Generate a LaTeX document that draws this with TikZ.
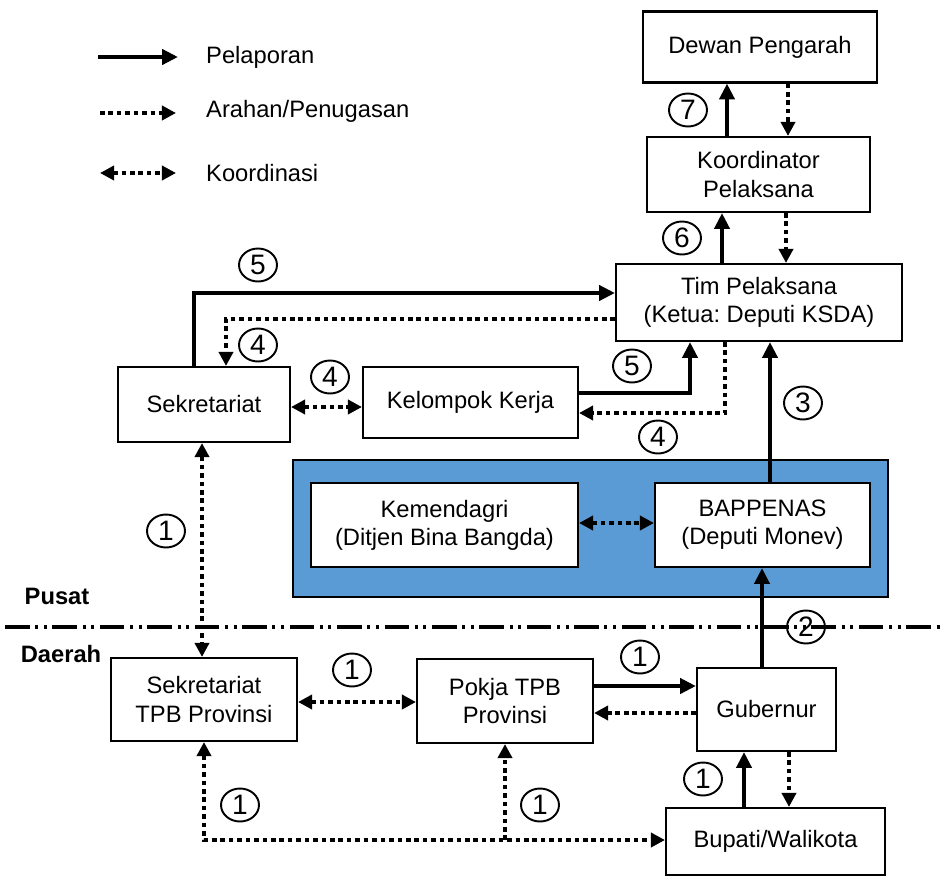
\documentclass[tikz,border=0pt]{standalone}
\usepackage{fontspec}
\setmainfont{Liberation Sans}
\usetikzlibrary{arrows.meta,positioning,calc,shapes.geometric}
\definecolor{colBiru}{RGB}{91,155,213}
\frenchspacing

\begin{document}
\begin{tikzpicture}[x=0.02cm, y=-0.02cm, font=\fontsize{13.5}{16}\selectfont,
    kotak/.style={rectangle, draw, line width=1.2pt, fill=white, align=center,
      inner sep=2pt},
    lapor/.style={-{Triangle[length=9pt,width=8.5pt]}, line width=2.3pt},
    arah/.style={-{Triangle[length=8pt,width=8pt]}, line width=2.2pt,
      dash pattern=on 2.6pt off 2.2pt},
    koord/.style={arah, {Triangle[length=8pt,width=8pt]}-{Triangle[length=8pt,width=8pt]}},
    nomor/.style={ellipse, draw, line width=1.1pt, minimum width=0.76cm,
      minimum height=0.66cm, inner sep=0pt, font=\fontsize{16}{18}\selectfont}]
  \useasboundingbox (0,0) rectangle (940,879);

  % legenda
  \coordinate (l1a) at (98,57);  \coordinate (l1b) at (178,57);
  \coordinate (l2a) at (100,113); \coordinate (l2b) at (176,113);
  \coordinate (l3a) at (100,173); \coordinate (l3b) at (176,173);
  \draw[lapor] (l1a) -- (l1b);
  \draw[arah] (l2a) -- (l2b);
  \draw[koord] (l3a) -- (l3b);
  \node[anchor=west] (t1) at (200,57) {Pelaporan};
  \node[anchor=west] (t2) at (200,111) {Arahan/Penugasan};
  \node[anchor=west] (t3) at (200,173) {Koordinasi};

  % pusat
  \node[draw, line width=1.2pt, fill=colBiru, minimum width=11.9cm,
    minimum height=2.74cm] (pusat) at (590.5,528.5) {};
  \node[kotak, minimum width=4.68cm, minimum height=1.42cm] (dp) at (760,47)
    {Dewan Pengarah};
  \node[kotak, minimum width=4.46cm, minimum height=1.5cm] (kp) at (758.5,174.5)
    {Koordinator\\ Pelaksana};
  \node[kotak, minimum width=5.72cm, minimum height=1.54cm] (tp) at (759,302.5)
    {Tim Pelaksana\\ (Ketua: Deputi KSDA)};
  \node[kotak, minimum width=3.44cm, minimum height=1.5cm] (sek) at (204,404.5)
    {Sekretariat};
  \node[kotak, minimum width=4.3cm, minimum height=1.42cm] (kk) at (470.5,402.5)
    {Kelompok Kerja};
  \node[kotak, minimum width=5.34cm, minimum height=1.68cm] (kmd) at (444.5,525)
    {Kemendagri\\ (Ditjen Bina Bangda)};
  \node[kotak, minimum width=4.3cm, minimum height=1.68cm] (bap) at (762.5,525)
    {BAPPENAS\\ (Deputi Monev)};

  % daerah
  \node[kotak, minimum width=3.72cm, minimum height=1.66cm] (sekp) at (204,699.5)
    {Sekretariat\\ TPB Provinsi};
  \node[kotak, minimum width=3.52cm, minimum height=1.68cm] (pokja) at (505,701)
    {Pokja TPB\\ Provinsi};
  \node[kotak, minimum width=2.78cm, minimum height=1.66cm] (gub) at (766.5,709.5)
    {Gubernur};
  \node[kotak, minimum width=4.38cm, minimum height=1.34cm] (bup) at (775.5,841.5)
    {Bupati/Walikota};

  % batas pusat-daerah
  \draw[line width=2.3pt, dash pattern=on 14pt off 3.2pt on 1.7pt off 3.2pt on 1.7pt off 3.2pt]
    (5,627) -- (940,627);
  \node[font=\fontsize{13.5}{16}\selectfont\bfseries] (lpusat) at (57,596) {Pusat};
  \node[font=\fontsize{13.5}{16}\selectfont\bfseries] (ldaerah) at (61,654) {Daerah};

  % hubungan
  \draw[lapor] ([xshift=-0.63cm]kp.north) -- ([xshift=-0.63cm]kp.north |- dp.south);
  \draw[arah] ([xshift=0.56cm]dp.south) -- ([xshift=0.56cm]dp.south |- kp.north);
  \draw[lapor] ([xshift=-0.74cm]tp.north) -- ([xshift=-0.74cm]tp.north |- kp.south);
  \draw[arah] ([xshift=0.55cm]kp.south) -- ([xshift=0.55cm]kp.south |- tp.north);
  \draw[lapor] ([xshift=-0.2cm]sek.north) |- ([yshift=0.19cm]tp.west);
  \draw[arah] ([yshift=-0.33cm]tp.west) -| ([xshift=0.44cm]sek.north);
  \draw[koord] ([yshift=-0.05cm]sek.east) -- ([yshift=-0.05cm]sek.east -| kk.west);
  \draw[lapor] ([yshift=0.19cm]kk.east) -| ([xshift=-1.38cm]tp.south);
  \draw[arah] ([xshift=-0.68cm]tp.south) |- ([yshift=-0.21cm]kk.east);
  \draw[lapor] ([xshift=0.15cm]bap.north) -- ([xshift=0.15cm]bap.north |- tp.south);
  \draw[koord] ([yshift=0.04cm]kmd.east) -- ([yshift=0.04cm]bap.west);
  \draw[lapor] ([xshift=-0.09cm]gub.north) -- ([xshift=-0.09cm]gub.north |- bap.south);
  \draw[koord] ([xshift=-0.04cm]sek.south) -- ([xshift=-0.04cm]sek.south |- sekp.north);
  \draw[koord] ([yshift=-0.05cm]sekp.east) -- ([yshift=-0.05cm]sekp.east -| pokja.west);
  \draw[lapor] ([yshift=0.3cm]pokja.east) -- ([yshift=0.3cm]pokja.east -| gub.west);
  \draw[arah] ([yshift=-0.07cm]gub.west) -- ([yshift=-0.07cm]gub.west -| pokja.east);
  \draw[lapor] ([xshift=-0.63cm]bup.north) -- ([xshift=-0.63cm]bup.north |- gub.south);
  \draw[arah] ([xshift=0.45cm]gub.south) -- ([xshift=0.45cm]gub.south |- bup.north);
  \draw[koord] (sekp.south) |- ([yshift=0.03cm]bup.west);
  \draw[arah] ([yshift=0.03cm]pokja.south |- bup.west) -- (pokja.south);

  % nomor
  \node[nomor] (n7) at (688,110) {7};
  \node[nomor] (n6) at (682,238) {6};
  \node[nomor] (n5a) at (258,265) {5};
  \node[nomor] (n4a) at (258,345) {4};
  \node[nomor] (n4b) at (330,377) {4};
  \node[nomor] (n5b) at (632,366) {5};
  \node[nomor] (n4c) at (658,437) {4};
  \node[nomor] (n3) at (803,403) {3};
  \node[nomor] (n2) at (806,627) {2};
  \node[nomor] (n1a) at (166,531) {1};
  \node[nomor] (n1b) at (352,670) {1};
  \node[nomor] (n1c) at (640,657) {1};
  \node[nomor] (n1d) at (703,779) {1};
  \node[nomor] (n1e) at (240,805) {1};
  \node[nomor] (n1f) at (540,805) {1};
\end{tikzpicture}
\end{document}
